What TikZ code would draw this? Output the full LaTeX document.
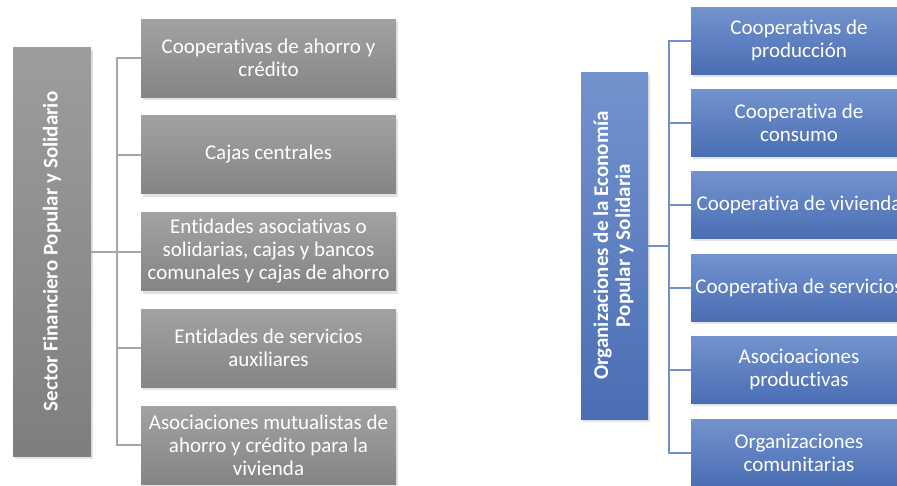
\documentclass[tikz,border=0pt]{standalone}
\usepackage{fontspec}
\setmainfont[Ligatures=NoCommon]{Carlito}
\usetikzlibrary{shadows}
\definecolor{gtop}{HTML}{9D9D9D}
\definecolor{gbot}{HTML}{7E7E7E}
\definecolor{btop}{HTML}{7393CE}
\definecolor{bbot}{HTML}{4A6EB4}
\definecolor{gline}{HTML}{A6A6A6}
\definecolor{bline}{HTML}{7090D0}
\tikzset{
  base/.style={draw=none, inner sep=0pt, align=center, text=white,
    font=\fontsize{21}{23}\selectfont,
    drop shadow={opacity=0.22, shadow xshift=1.5pt, shadow yshift=-3pt}},
  grayroot/.style={base, top color=gtop, bottom color=gbot, minimum width=78pt, minimum height=409pt},
  graybox/.style={base, top color=gtop!95!white, bottom color=gbot!95!white, minimum width=255pt, minimum height=78pt},
  blueroot/.style={base, top color=btop, bottom color=bbot, minimum width=67pt, minimum height=347pt},
  bluebox/.style={base, top color=btop, bottom color=bbot, minimum width=216pt, minimum height=67pt},
  gconn/.style={draw=gline, line width=2pt},
  bconn/.style={draw=bline, line width=2pt},
}
\begin{document}
\begin{tikzpicture}[x=1pt,y=-1pt]
\useasboundingbox (0,0) rectangle (897,485);
\clip (0,0) rectangle (897,485);
% left panel
\coordinate (lt) at (117,0);
\coordinate (rt) at (669,0);
\node[grayroot] (lroot) at (52,251.5) {\rotatebox{90}{\bfseries Sector Financiero Popular y Solidario}};
\node[graybox] (l1) at (268.5,58) {Cooperativas de ahorro y\\crédito};
\node[graybox] (l2) at (268.5,154.5) {Cajas centrales};
\node[graybox] (l3) at (268.5,251.5) {Entidades asociativas o\\solidarias, cajas y bancos\\comunales y cajas de ahorro};
\node[graybox] (l4) at (268.5,348) {Entidades de servicios\\auxiliares};
\node[graybox] (l5) at (268.5,445) {Asociaciones mutualistas de\\ahorro y crédito para la\\vivienda};
\foreach \c in {l1,l2,l3,l4,l5}
  \draw[gconn] (lroot.east) -- (lroot.east -| lt) |- (\c.west);
% right panel
\node[blueroot] (rroot) at (614.5,245.5) {\rotatebox{90}{\bfseries\begin{tabular}{@{}c@{}}Organizaciones de la Economía\\[-1pt]Popular y Solidaria\end{tabular}}};
\node[bluebox] (r1) at (799,40.5) {Cooperativas de\\producción};
\node[bluebox] (r2) at (799,122.5) {Cooperativa de\\consumo};
\node[bluebox] (r3) at (799,204.5) {Cooperativa de vivienda};
\node[bluebox] (r4) at (799,287.5) {Cooperativa de servicios};
\node[bluebox] (r5) at (799,369.5) {Asocioaciones\\productivas};
\node[bluebox] (r6) at (799,452.5) {Organizaciones\\comunitarias};
\foreach \c in {r1,r2,r3,r4,r5,r6}
  \draw[bconn] (rroot.east) -- (rroot.east -| rt) |- (\c.west);
\end{tikzpicture}
\end{document}
